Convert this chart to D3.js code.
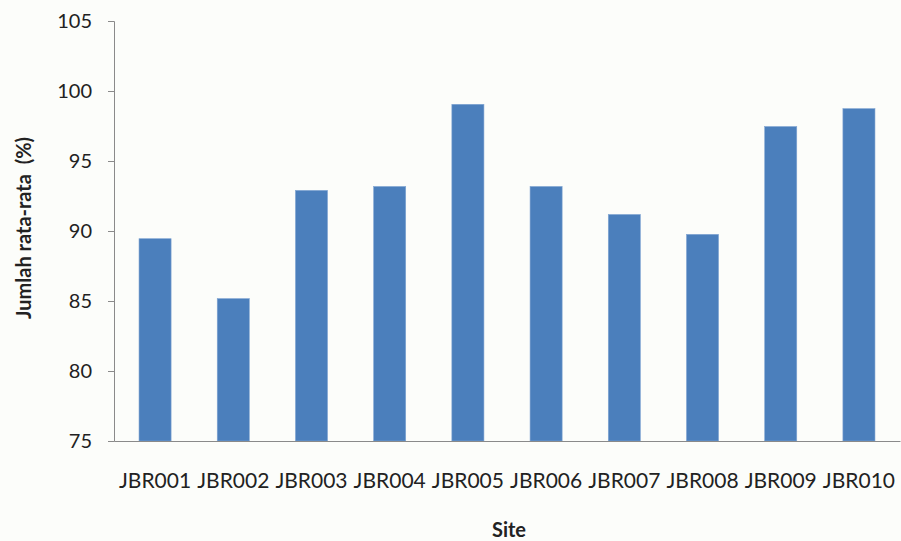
<!DOCTYPE html>
<html lang="en">
<head>
<meta charset="UTF-8">
<title>Jumlah rata-rata per Site</title>
<script src="https://d3js.org/d3.v7.min.js"></script>
<style>
  body { margin: 0; background: #fcfdfa; }
  text { font-family: Lato, "Noto Sans", sans-serif; fill: #222; }
  .axis path, .axis line { stroke: #8a8a8a; }
</style>
</head>
<body>
<div id="chart"></div>
<script>
var sites = ["JBR001", "JBR002", "JBR003", "JBR004", "JBR005",
             "JBR006", "JBR007", "JBR008", "JBR009", "JBR010"];
var values = [89.45, 85.17, 92.9, 93.18, 99.05, 93.18, 91.18, 89.76, 97.46, 98.74];
var yTicks = [75, 80, 85, 90, 95, 100, 105];

var width = 901, height = 541;
var margin = { top: 21, right: 1, bottom: 100, left: 114 };

var svg = d3.select("#chart")
  .append("svg")
  .attr("width", width)
  .attr("height", height);

var x = d3.scaleBand()
  .domain(sites)
  .range([margin.left, width - margin.right])
  .paddingInner(0.59)
  .paddingOuter(0.32);

var y = d3.scaleLinear()
  .domain([75, 105])
  .range([height - margin.bottom, margin.top]);

// bars
svg.append("g")
  .selectAll("rect")
  .data(values)
  .join("rect")
  .attr("x", (d, i) => x(sites[i]))
  .attr("y", d => y(d))
  .attr("width", x.bandwidth())
  .attr("height", d => y(75) - y(d))
  .attr("fill", "#4b7fbc")
  .attr("stroke", "#80a5d2")
  .attr("stroke-width", 0.6);

// y axis
var yAxis = svg.append("g")
  .attr("class", "axis")
  .attr("transform", "translate(" + margin.left + ",0)")
  .call(d3.axisLeft(y).tickValues(yTicks).tickSize(6).tickPadding(16));
yAxis.selectAll("text").attr("font-size", 20).style("fill", "#222");

// x axis
var xAxis = svg.append("g")
  .attr("class", "axis")
  .attr("transform", "translate(0," + y(75) + ")")
  .call(d3.axisBottom(x).tickSize(0).tickPadding(32).tickSizeOuter(0));
xAxis.selectAll("text").attr("font-size", 21).style("fill", "#222");

// axis titles
svg.append("text")
  .attr("transform", "translate(31,228) rotate(-90)")
  .attr("text-anchor", "middle")
  .attr("font-size", 20)
  .attr("font-weight", "bold")
  .style("white-space", "pre")
  .text("Jumlah rata-rata  (%)");

svg.append("text")
  .attr("x", 509)
  .attr("y", 537)
  .attr("text-anchor", "middle")
  .attr("font-size", 20)
  .attr("font-weight", "bold")
  .text("Site");
</script>
</body>
</html>
